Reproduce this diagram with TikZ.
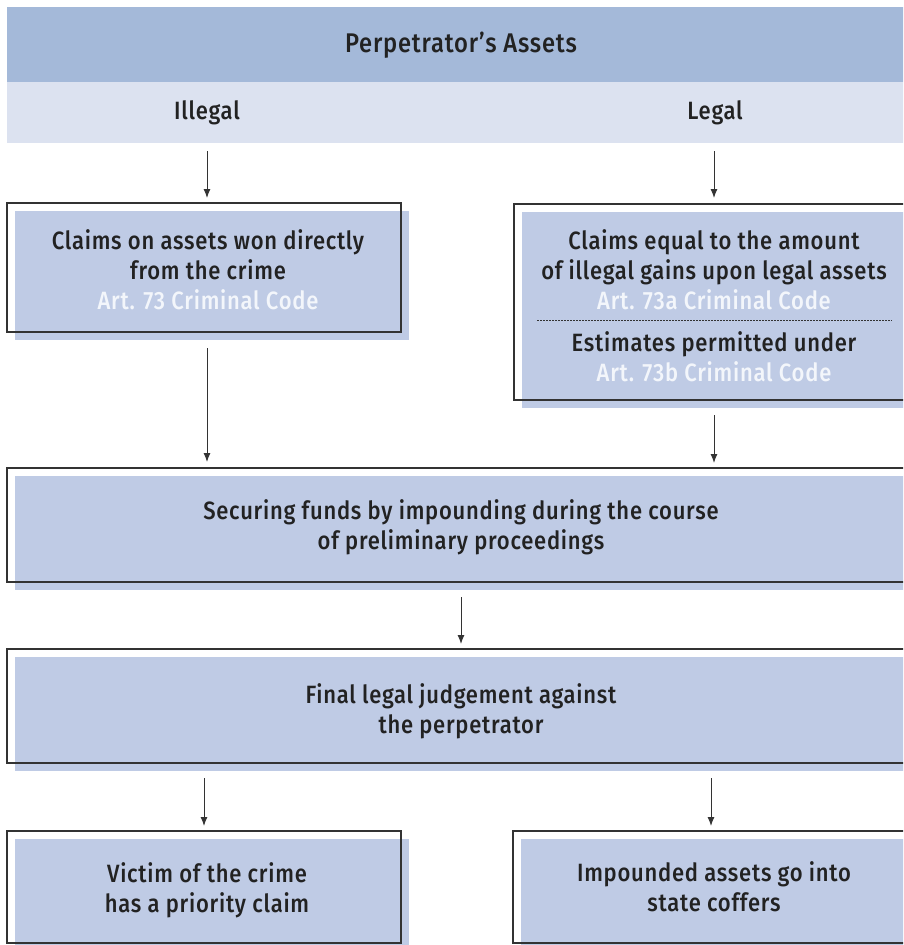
\documentclass[tikz,border=0pt]{standalone}
\usepackage{fontspec}
\setmainfont{Fira Sans}[UprightFont=* Medium, FakeStretch=0.88, LetterSpace=3]
\usetikzlibrary{arrows.meta}
\definecolor{hdrdark}{HTML}{A4B9D9}
\definecolor{hdrlight}{HTML}{DCE2F0}
\definecolor{boxfill}{HTML}{BFCBE5}
\definecolor{outl}{HTML}{333333}
\definecolor{txt}{HTML}{222222}
\definecolor{arttxt}{HTML}{F3F6FB}
\begin{document}
\begin{tikzpicture}[x=1pt,y=-1pt,
  frame/.style={rectangle, inner sep=0pt, outer sep=0pt, anchor=north west},
  outline/.style={draw=outl, line width=1.3pt},
  txtnode/.style={align=center, font=\fontsize{25}{30}\selectfont, text=txt, inner sep=0pt},
  arr/.style={draw=outl, line width=1pt, -{Latex[length=9pt,width=7pt]}}]
\useasboundingbox (0,0) rectangle (903,945);
\begin{scope}
\clip (0,0) rectangle (903,945);
% header
\node[frame, fill=hdrdark, minimum width=908, minimum height=75] (hdr) at (7,7) {};
\node[frame, fill=hdrlight, minimum width=908, minimum height=61] (sub) at (7,82) {};
\node[txtnode, font=\fontsize{27}{30}\selectfont] (title) at (461,45) {Perpetrator's Assets};
\node[txtnode] (illegal) at (207,113) {Illegal};
\node[txtnode] (legal) at (715,113) {Legal};
% boxes (outline frames)
\node[frame, minimum width=394, minimum height=129] (b1) at (7,203) {};
\node[frame, minimum width=401, minimum height=196] (b2) at (514,204) {};
\node[frame, minimum width=908, minimum height=114] (b3) at (7,468) {};
\node[frame, minimum width=908, minimum height=114] (b4) at (7,649) {};
\node[frame, minimum width=394, minimum height=112] (b5) at (7,831) {};
\node[frame, minimum width=402, minimum height=112] (b6) at (513,831) {};
% offset fills
\foreach \b in {b1,b2,b3,b4,b5,b6}{
  \fill[boxfill] ([shift={(7.5,7.5)}]\b.north west) rectangle ([shift={(7.5,7.5)}]\b.south east);
}
\fill[boxfill] ([shift={(7.5,7.5)}]b5.south west) rectangle ([shift={(7.5,30)}]b5.south east);
\fill[boxfill] ([shift={(7.5,7.5)}]b6.south west) rectangle ([shift={(7.5,30)}]b6.south east);
\foreach \b in {b1,b2,b3,b4,b5,b6}{
  \draw[outline] (\b.north west) rectangle (\b.south east);
}
% texts
\node[txtnode] (t1) at (208,270) {Claims on assets won directly\\from the crime\\\textcolor{arttxt}{Art. 73 Criminal Code}};
\node[txtnode] (t2a) at (714,270) {Claims equal to the amount\\of illegal gains upon legal assets\\\textcolor{arttxt}{Art. 73a Criminal Code}};
\coordinate (dl) at (537,320);
\coordinate (dr) at (892,320);
\draw[outl, line width=1pt, dash pattern=on 1.5pt off 1.5pt] (dl) -- (dr);
\node[txtnode] (t2b) at (714,357) {Estimates permitted under\\\textcolor{arttxt}{Art. 73b Criminal Code}};
\node[txtnode] (t3) at (461,527) {Securing funds by impounding during the course\\of preliminary proceedings};
\node[txtnode] (t4) at (461,711) {Final legal judgement against\\the perpetrator};
\node[txtnode] (t5) at (207,890) {Victim of the crime\\has a priority claim};
\node[txtnode] (t6) at (714,887) {Impounded assets go into\\state coffers};
% arrows
\coordinate (xl) at (207,0);
\coordinate (xr) at (714,0);
\coordinate (xm) at (461,0);
\coordinate (xl2) at (204,0);
\coordinate (xr2) at (711,0);
\draw[arr, shorten <=8pt, shorten >=5pt] (xl |- sub.south) -- (xl |- b1.north);
\draw[arr, shorten <=8pt, shorten >=6pt] (xr |- sub.south) -- (xr |- b2.north);
\draw[arr, shorten <=16pt, shorten >=6pt] (xl |- b1.south) -- (xl |- b3.north);
\draw[arr, shorten <=15pt, shorten >=5pt] (xr |- b2.south) -- (xr |- b3.north);
\draw[arr, shorten <=15pt, shorten >=5pt] (xm |- b3.south) -- (xm |- b4.north);
\draw[arr, shorten <=15pt, shorten >=5pt] (xl2 |- b4.south) -- (xl2 |- b5.north);
\draw[arr, shorten <=15pt, shorten >=5pt] (xr2 |- b4.south) -- (xr2 |- b6.north);
\end{scope}
\end{tikzpicture}
\end{document}
